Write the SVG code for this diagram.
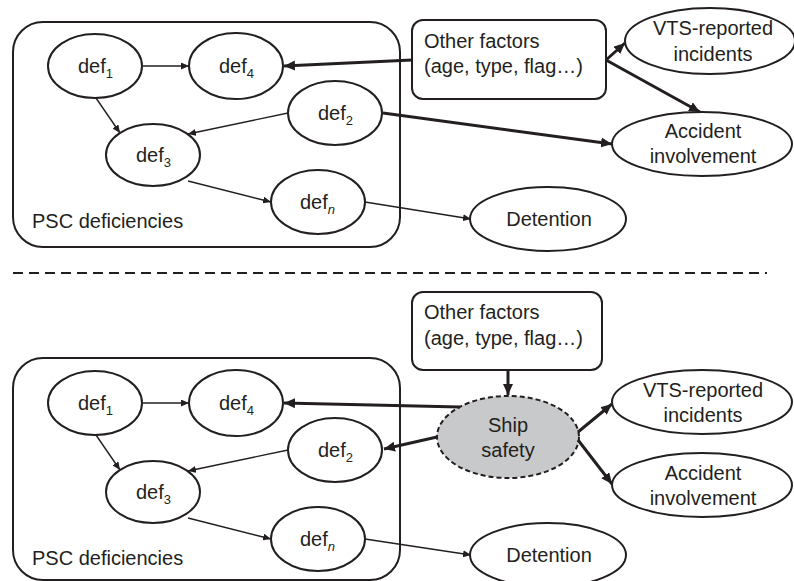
<svg xmlns="http://www.w3.org/2000/svg" width="794" height="581" viewBox="0 0 794 581">
<defs>
<style>
.box{fill:#fff;stroke:#231f20;stroke-width:2}
.el{fill:#fff;stroke:#231f20;stroke-width:2}
.ship{fill:#c8c9ca;stroke:#231f20;stroke-width:2;stroke-dasharray:5 3}
text{font-family:"Liberation Sans",Arial,sans-serif;font-size:20px;fill:#231f20}
.c{text-anchor:middle}
.sub{font-size:13px}
.thin{fill:none;stroke:#231f20;stroke-width:1.4;marker-end:url(#ah)}
.thick{fill:none;stroke:#231f20;stroke-width:3;marker-end:url(#AH)}
.dash{fill:none;stroke:#231f20;stroke-width:2;stroke-dasharray:10 6}
</style>
<marker id="ah" markerUnits="userSpaceOnUse" markerWidth="9" markerHeight="7" refX="8" refY="3.5" orient="auto"><path d="M0,0 L8,3.5 L0,7 z" fill="#231f20"/></marker>
<marker id="AH" markerUnits="userSpaceOnUse" markerWidth="12" markerHeight="10" refX="11" refY="5" orient="auto"><path d="M0,0 L11,5 L0,10 z" fill="#231f20"/></marker>
</defs>
<rect width="794" height="581" fill="#fff"/>

<!-- TOP PANEL -->
<g id="psc-top"><rect class="box" x="13" y="22" width="387" height="225" rx="30"/><text x="32" y="228">PSC deficiencies</text></g>
<g id="def1-top"><ellipse class="el" cx="95" cy="66" rx="47" ry="32"/><text x="78" y="73">def<tspan class="sub" dy="5">1</tspan></text></g>
<g id="def4-top"><ellipse class="el" cx="236" cy="66" rx="47" ry="33"/><text x="219" y="73">def<tspan class="sub" dy="5">4</tspan></text></g>
<g id="def2-top"><ellipse class="el" cx="335" cy="113" rx="47" ry="32"/><text x="318" y="120">def<tspan class="sub" dy="5">2</tspan></text></g>
<g id="def3-top"><ellipse class="el" cx="153" cy="155" rx="47" ry="31"/><text x="136" y="162">def<tspan class="sub" dy="5">3</tspan></text></g>
<g id="defn-top"><ellipse class="el" cx="318" cy="202" rx="47" ry="32"/><text x="300" y="209">def<tspan class="sub" dy="5" font-style="italic">n</tspan></text></g>
<g id="other-top"><rect class="box" x="412" y="20" width="194" height="79" rx="11"/><text x="424" y="48">Other factors</text><text x="424" y="73">(age, type, flag…)</text></g>
<g id="vts-top"><ellipse class="el" cx="710" cy="41" rx="85" ry="33"/><text class="c" x="713" y="35">VTS-reported</text><text class="c" x="713" y="61">incidents</text></g>
<g id="acc-top"><ellipse class="el" cx="702" cy="144" rx="90" ry="32"/><text class="c" x="703" y="138">Accident</text><text class="c" x="703" y="163">involvement</text></g>
<g id="det-top"><ellipse class="el" cx="548" cy="219" rx="78" ry="32"/><text class="c" x="549" y="226">Detention</text></g>

<g id="connectors-top">
<path class="thin" d="M143,66 L189,66"/>
<path class="thin" d="M96,98 L120,133"/>
<path class="thin" d="M288,113 L188,134"/>
<path class="thin" d="M188,181 L271,202"/>
<path class="thin" d="M365,202 L471,219"/>
<path class="thick" d="M412,60 L284,66"/>
<path class="thick" d="M383,113 L612,144"/>
<path class="thick" d="M606,60 L625,43"/>
<path class="thick" d="M606,60 L700,112"/>
</g>

<line id="separator" class="dash" x1="13" y1="273" x2="767" y2="273"/>

<!-- BOTTOM PANEL -->
<g id="psc-bot"><rect class="box" x="13" y="358" width="387" height="222" rx="30"/><text x="32" y="565">PSC deficiencies</text></g>
<g id="def1-bot"><ellipse class="el" cx="95" cy="403" rx="47" ry="32"/><text x="78" y="410">def<tspan class="sub" dy="5">1</tspan></text></g>
<g id="def4-bot"><ellipse class="el" cx="236" cy="403" rx="47" ry="33"/><text x="219" y="410">def<tspan class="sub" dy="5">4</tspan></text></g>
<g id="def2-bot"><ellipse class="el" cx="335" cy="450" rx="47" ry="32"/><text x="318" y="457">def<tspan class="sub" dy="5">2</tspan></text></g>
<g id="def3-bot"><ellipse class="el" cx="153" cy="492" rx="47" ry="31"/><text x="136" y="499">def<tspan class="sub" dy="5">3</tspan></text></g>
<g id="defn-bot"><ellipse class="el" cx="318" cy="539" rx="47" ry="32"/><text x="300" y="546">def<tspan class="sub" dy="5" font-style="italic">n</tspan></text></g>
<g id="other-bot"><rect class="box" x="412" y="292" width="190" height="78" rx="11"/><text x="424" y="319">Other factors</text><text x="424" y="345">(age, type, flag…)</text></g>
<g id="ship"><ellipse class="ship" cx="508" cy="437" rx="71" ry="41"/><text class="c" x="508" y="432">Ship</text><text class="c" x="508" y="457">safety</text></g>
<g id="vts-bot"><ellipse class="el" cx="702" cy="402" rx="90" ry="32"/><text class="c" x="703" y="397">VTS-reported</text><text class="c" x="703" y="422">incidents</text></g>
<g id="acc-bot"><ellipse class="el" cx="702" cy="485" rx="90" ry="32"/><text class="c" x="703" y="480">Accident</text><text class="c" x="703" y="505">involvement</text></g>
<g id="det-bot"><ellipse class="el" cx="548" cy="555" rx="78" ry="32"/><text class="c" x="549" y="562">Detention</text></g>

<g id="connectors-bot">
<path class="thin" d="M143,403 L189,403"/>
<path class="thin" d="M96,435 L120,470"/>
<path class="thin" d="M288,450 L188,471"/>
<path class="thin" d="M188,518 L271,539"/>
<path class="thin" d="M365,539 L471,555"/>
<path class="thick" d="M508,370 L508,395"/>
<path class="thick" d="M460,407 L284,403"/>
<path class="thick" d="M437,437 L384,449"/>
<path class="thick" d="M578,432 L612,404"/>
<path class="thick" d="M578,440 L612,484"/>
</g>
</svg>
